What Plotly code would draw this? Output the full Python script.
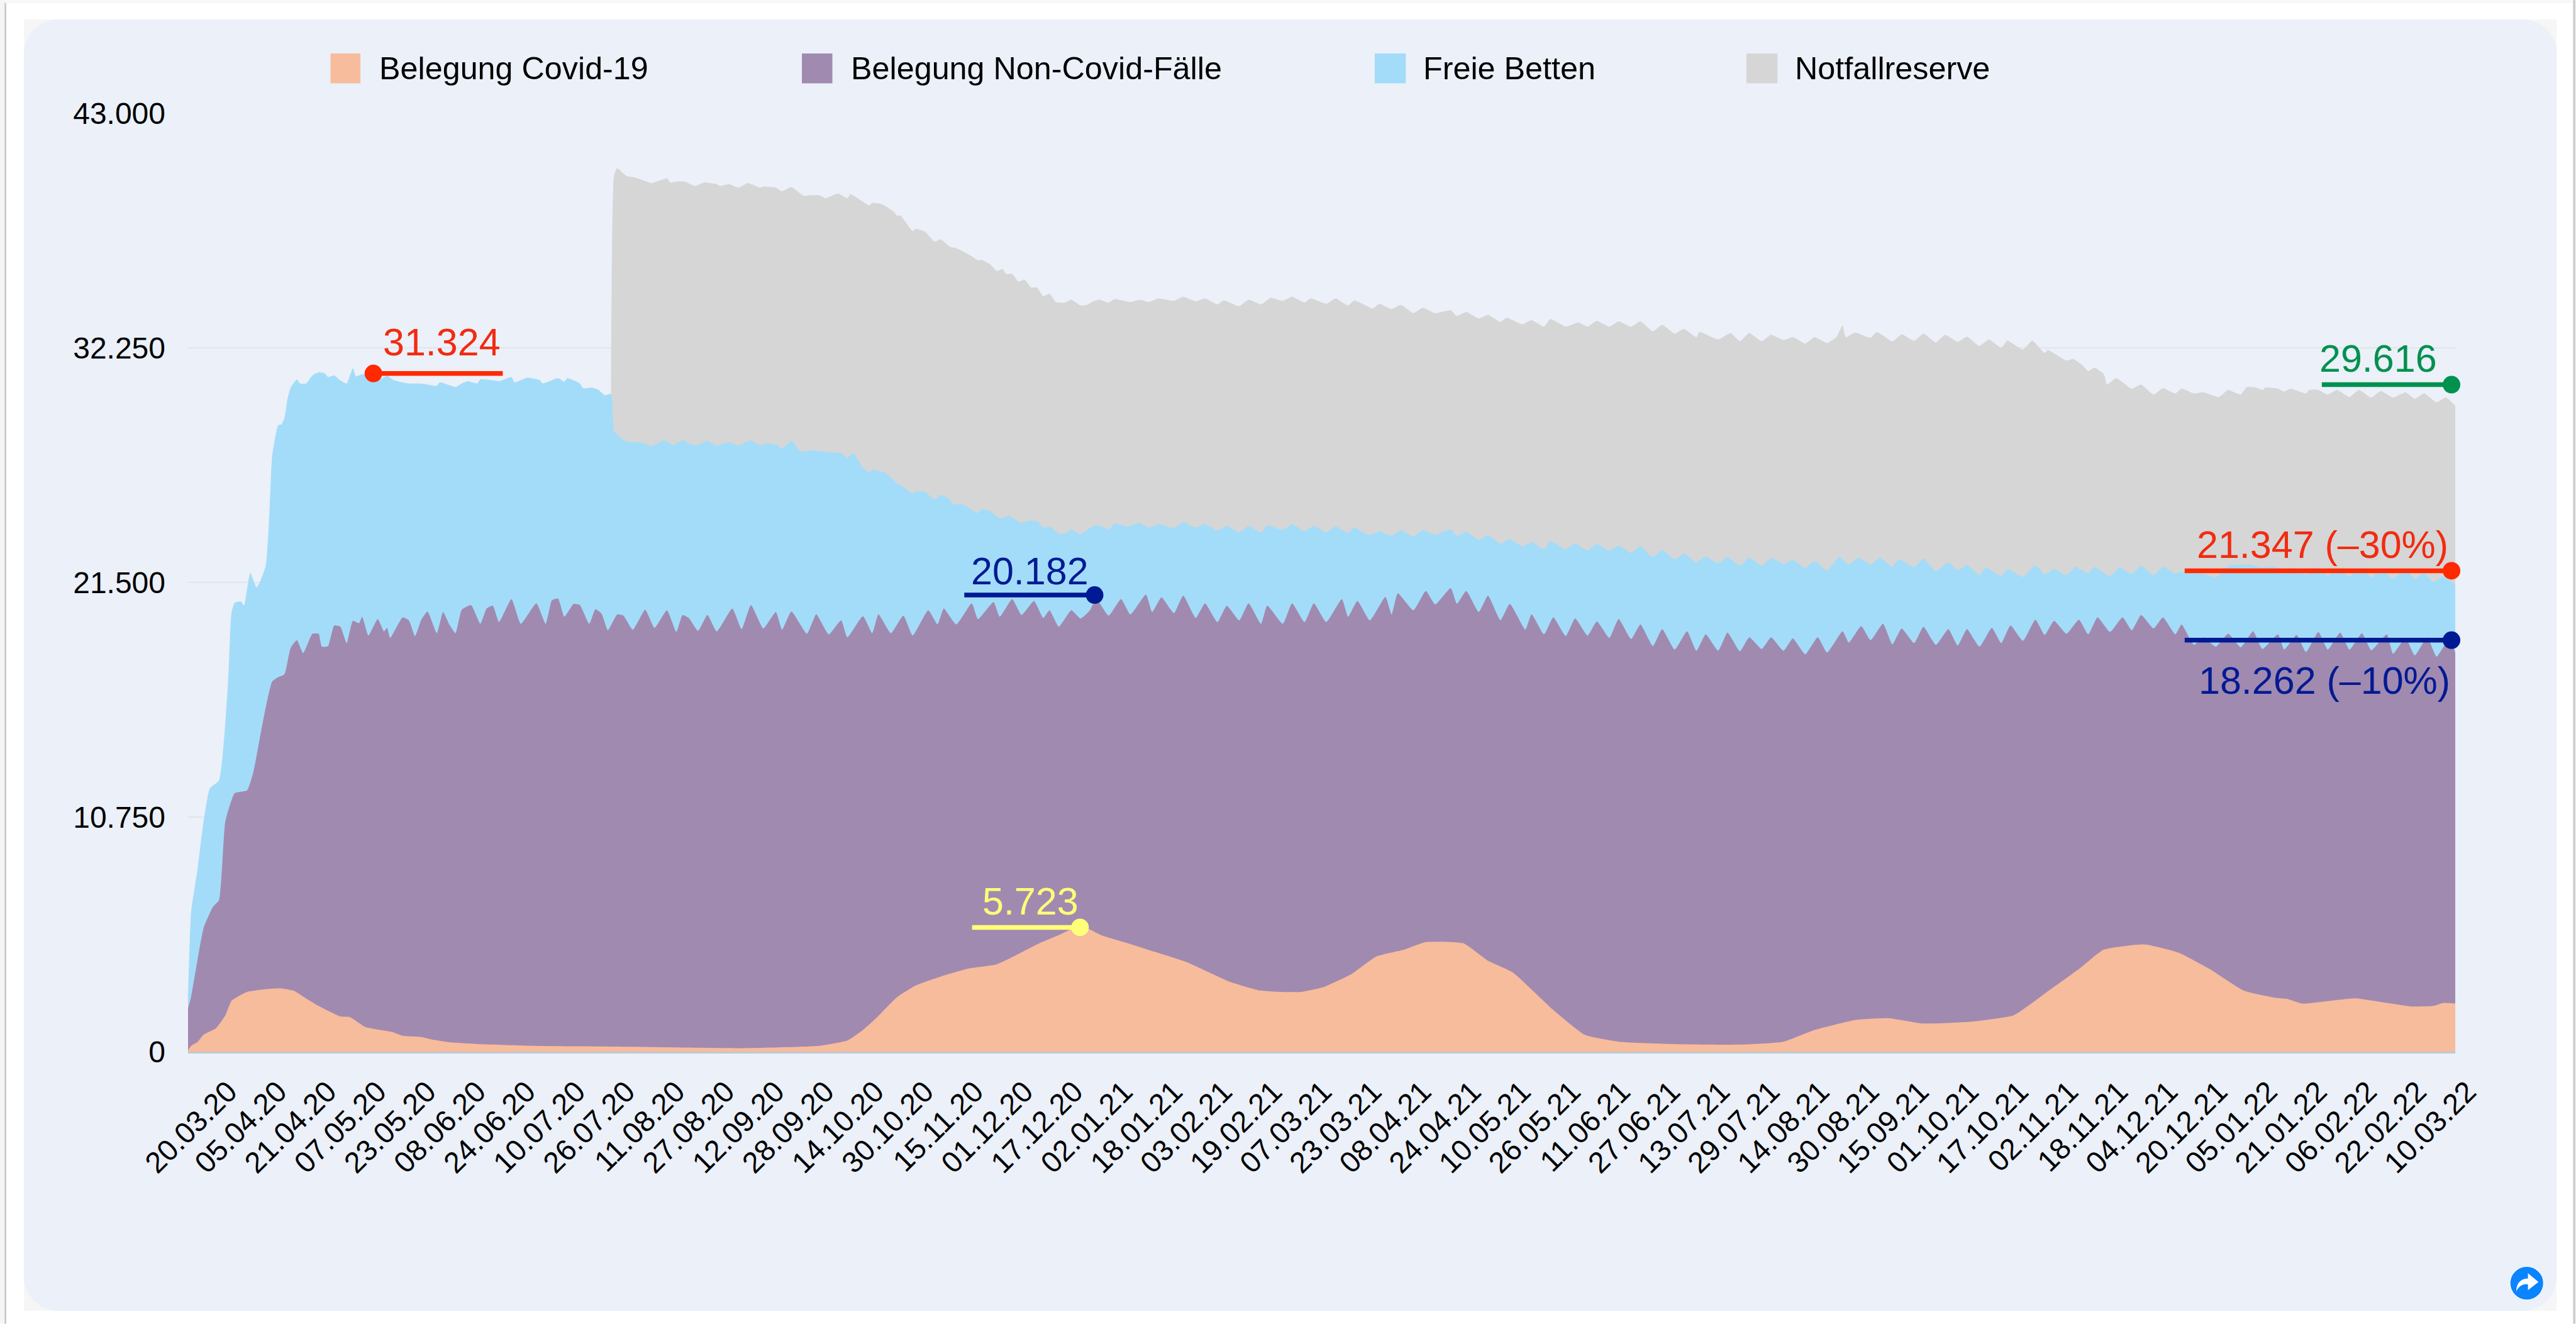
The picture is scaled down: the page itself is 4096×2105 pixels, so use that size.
import plotly.graph_objects as go

# ---------- data (day = days since 20.03.20, value = beds, cumulative top of each band) ----------
tick_labels = ["20.03.20","05.04.20","21.04.20","07.05.20","23.05.20","08.06.20","24.06.20","10.07.20","26.07.20",
 "11.08.20","27.08.20","12.09.20","28.09.20","14.10.20","30.10.20","15.11.20","01.12.20","17.12.20","02.01.21",
 "18.01.21","03.02.21","19.02.21","07.03.21","23.03.21","08.04.21","24.04.21","10.05.21","26.05.21","11.06.21",
 "27.06.21","13.07.21","29.07.21","14.08.21","30.08.21","15.09.21","01.10.21","17.10.21","02.11.21","18.11.21",
 "04.12.21","20.12.21","05.01.22","21.01.22","06.02.22","22.02.22","10.03.22"]
y_ticks = [0, 10750, 21500, 32250, 43000]

covid_top = [(0,54),(1,269),(3,430),(5,779),(9,1074),(12,1665),(14,2336),(16,2524),(19,2739),(24,2847),(30,2900),(34,2793),
(37,2524),(42,2095),(49,1611),(52,1585),(57,1128),(66,886),(69,725),(75,671),(79,537),(84,430),(93,349),(110,269),(127,242),
(146,215),(177,161),(203,269),(212,510),(217,994),(222,1638),(228,2498),(234,3035),(242,3438),(251,3814),(260,4002),(266,4404),
(273,4915),(280,5344),(287,5774),(294,5317),(304,4888),(311,4566),(321,4109),(328,3652),(335,3196),(344,2820),(351,2739),(358,2739),
(365,2954),(374,3545),(382,4351),(391,4673),(398,5022),(410,4968),(418,4163),(426,3626),(439,1907),(449,779),(460,457),(478,349),
(499,322),(513,457),(523,994),(536,1450),(547,1531),(558,1289),(573,1370),(587,1665),(597,2659),(608,3787),(616,4673),(629,4915),
(640,4539),(650,3787),(661,2793),(671,2471),(675,2417),(680,2202),(689,2336),(697,2444),(706,2256),(715,2068),(722,2095),(725,2229),(729,2202)]

noncovid_top = [(0,1987),(1,2524),(3,4163),(5,5667),(8,6633),(10,6956),(12,10554),(15,11843),(19,11978),(21,12810),(24,15066),(27,16946),
(29,17161),(31,17295),(33,18504),(35,18853),(37,18262),(40,19148),(42,19148),(43,18557),(45,18584),(47,19524),(49,19471),(51,18719),
(53,19739),(55,19632),(56,19927),(58,19068),(61,19820),(63,19256),(64,19417),(65,18960),(69,19900),(71,19766),(73,19041),(75,19793),
(77,20169),(80,19175),(82,20142),(84,19578),(86,19175),(88,20249),(91,20464),(94,19605),(96,20303),(98,20437),(100,19685),(104,20733),
(107,19605),(112,20545),(115,19605),(117,20679),(119,20760),(121,19927),(124,20518),(126,20464),(129,19605),(131,20276),(133,20061),
(135,19309),(138,20035),(140,19981),(143,19336),(147,20249),(150,19417),(154,20223),(157,19229),(159,20008),(161,19873),(164,19283),
(167,20008),(170,19256),(175,20303),(178,19363),(181,20464),(185,19390),(189,20142),(191,19336),(194,20169),(199,19148),(202,20035),
(206,19121),(210,19766),(212,18987),(217,19954),(220,19175),(222,20035),(226,19175),(230,19981),(233,19068),(238,20223),(241,19578),
(243,20303),(247,19578),(252,20545),(254,19820),(259,20599),(261,19927),(265,20733),(268,20008),(272,20652),(275,19873),(277,20223),
(280,19471),(284,20223),(287,19847),(290,20223),(292,20760),(296,19981),(300,20733),(303,20035),(308,20948),(310,20142),(313,20813),
(317,20088),(320,20894),(324,19873),(327,20545),(331,19685),(334,20437),(338,19766),(341,20545),(345,19605),(347,20437),(352,19605),
(355,20545),(359,19685),(362,20545),(366,19685),(371,20733),(373,19927),(376,20652),(380,19766),(385,20840),(387,20035),(389,21001),
(394,20223),(398,21109),(401,20491),(406,21243),(408,20518),(411,21109),(415,20142),(418,20894),(422,19766),(425,20518),(430,19336),
(432,20035),(436,19121),(439,19900),(443,19041),(446,19847),(450,19068),(453,19712),(457,18960),(460,19820),(464,18907),(467,19578),
(471,18584),(474,19363),(478,18423),(482,19256),(485,18370),(488,19121),(492,18370),(495,19202),(499,18343),(502,18987),(506,18450),
(509,18987),(513,18370),(516,18933),(520,18208),(524,18987),(527,18289),(532,19256),(534,18745),(538,19497),(541,18853),(545,19605),
(548,18665),(551,19390),(555,18719),(558,19471),(562,18638),(566,19363),(569,18611),(572,19363),(576,18557),(580,19417),(583,18719),
(586,19524),(590,18826),(594,19793),(597,19095),(600,19739),(604,19148),(608,19793),(611,19121),(614,19900),(618,19229),(622,19900),
(625,19309),(628,20008),(632,19390),(635,19900),(639,19121),(641,19578),(645,18638),(648,18987),(652,18557),(656,19148),(660,18531),
(664,19256),(667,18450),(672,19121),(674,18423),(678,19095),(681,18316),(685,19229),(688,18423),(692,19202),(695,18423),(699,19175),
(702,18396),(707,19121),(709,18235),(713,18960),(716,18155),(720,18987),(723,18101),(727,18907),(729,18289)]

free_top = [(0,2600),(1,6419),(3,8299),(5,10554),(7,12058),(10,12434),(12,15066),(13,17295),(14,20142),(15,20572),(17,20625),(18,20437),
(20,21941),(22,21270),(23,21485),(25,22264),(26,24170),(27,27232),(28,28118),(29,28709),(30,28736),(31,29031),(32,29918),(33,30428),
(35,30804),(36,30616),(38,30616),(40,30992),(42,31126),(44,31072),(45,30911),(47,30992),(49,30750),(51,30616),(53,31314),(54,30938),
(56,31045),(59,30965),(62,30831),(64,30965),(66,30777),(68,30696),(71,30616),(75,30616),(80,30508),(81,30670),(86,30455),(88,30616),
(90,30723),(93,30616),(94,30804),(97,30777),(100,30723),(104,30911),(105,30670),(109,30884),(113,30777),(114,30616),(119,30858),
(121,30696),(122,30858),(126,30616),(127,30401),(130,30428),(132,30320),(134,30079),(136,30132),(137,28440),(139,28145),(141,27957),
(146,27903),(149,27742),(153,28011),(156,27796),(159,28011),(163,27769),(167,27984),(170,27769),(174,27930),(177,27769),(181,28011),
(184,27769),(186,27877),(189,27823),(191,27635),(194,27984),(197,27501),(200,27554),(206,27474),(210,27420),(212,27205),(214,27420),
(217,26749),(219,26534),(220,26668),(224,26534),(228,26050),(230,25889),(233,25567),(234,25674),(237,25647),(240,25298),(242,25513),
(245,25298),(246,25083),(249,25083),(254,24681),(255,24869),(258,24761),(261,24439),(264,24546),(268,24224),(270,24332),(273,24305),
(275,24009),(277,24063),(280,23741),(282,23741),(284,23929),(287,23714),(291,24090),(293,24117),(296,23929),(298,24197),(302,24063),
(306,24224),(309,24009),(312,24170),(317,23982),(320,24251),(324,24009),(327,24170),(331,23875),(334,24090),(338,23794),(341,24090),
(345,23794),(347,24117),(352,23902),(355,24170),(359,23848),(362,24090),(366,23794),(369,24063),(373,23768),(375,24009),(380,23660),
(383,23848),(387,23633),(390,23902),(394,23606),(397,23902),(401,23687),(406,23929),(408,23633),(411,23821),(415,23445),(418,23660),
(422,23284),(425,23499),(429,23150),(432,23338),(436,23016),(438,23392),(443,23016),(446,23284),(450,22962),(453,23257),(457,22962),
(460,23177),(464,22855),(467,23150),(471,22667),(474,22989),(478,22559),(481,22828),(485,22425),(488,22693),(492,22371),(495,22667),
(499,22264),(502,22640),(506,22264),(509,22613),(513,22344),(516,22532),(520,22156),(523,22478),(527,22049),(531,22667),(534,22317),
(537,22640),(541,22317),(544,22640),(548,22210),(550,22559),(555,22210),(558,22586),(562,22022),(566,22425),(569,22049),(572,22317),
(576,21834),(578,22183),(583,21780),(585,22102),(590,21753),(594,22290),(597,21861),(600,22129),(604,21834),(607,22210),(611,21914),
(613,22210),(618,21780),(621,22183),(625,21888),(628,22264),(632,21834),(635,22210),(639,21914),(643,22049),(649,21861),(652,21727),
(656,22264),(663,22317),(667,22183),(671,22237),(674,21914),(676,22183),(681,21861),(684,22183),(688,21807),(691,22183),(695,21780),
(699,22183),(702,21727),(705,22129),(709,21673),(713,22102),(716,21673),(719,21941),(722,21512),(725,21780),(729,21377)]

reserve_top = [(136,30132),(137,40177),(138,40472),(141,40123),(144,40042),(149,39801),(151,39881),(154,40015),(155,39827),(158,39881),
(160,39854),(163,39666),(166,39827),(170,39747),(171,39666),(174,39747),(177,39586),(180,39801),(184,39586),(185,39639),(189,39586),
(191,39425),(194,39613),(198,39210),(200,39237),(203,39237),(205,39102),(209,39317),(212,39102),(213,39290),(219,38780),(220,38888),
(223,38834),(227,38485),(228,38297),(229,38324),(233,37598),(234,37706),(237,37571),(240,37115),(242,37222),(245,36873),(247,36820),
(252,36444),(254,36256),(255,36283),(258,36068),(260,35772),(262,35853),(263,35638),(265,35638),(267,35289),(269,35369),(271,35020),
(273,35020),(275,34617),(277,34725),(279,34349),(282,34322),(284,34456),(287,34188),(289,34215),(291,34376),(293,34456),(296,34322),
(298,34483),(303,34349),(306,34456),(309,34349),(312,34510),(317,34403),(320,34590),(324,34376),(327,34510),(331,34241),(333,34429),
(338,34161),(341,34456),(345,34241),(348,34537),(352,34403),(355,34590),(359,34322),(361,34510),(366,34268),(369,34510),(373,34188),
(375,34429),(381,34053),(383,34268),(387,34027),(390,34215),(394,33839),(397,34080),(401,33839),(406,33973),(408,33704),(411,33892),
(415,33597),(418,33758),(422,33436),(424,33624),(429,33328),(432,33516),(436,33221),(438,33570),(443,33221),(447,33409),(450,33221),
(453,33489),(457,33221),(460,33463),(464,33221),(467,33463),(471,33006),(474,33301),(478,32899),(481,33113),(485,32737),(486,32979),
(492,32630),(496,32925),(499,32549),(502,32925),(506,32549),(509,32845),(513,32603),(516,32737),(520,32442),(523,32737),(527,32469),
(530,32737),(532,33275),(533,32737),(536,32952),(541,32711),(543,32979),(548,32549),(551,32872),(555,32576),(558,32899),(562,32496),
(565,32845),(569,32523),(572,32764),(576,32335),(579,32630),(583,32254),(585,32576),(590,32173),(593,32576),(597,32012),(598,32146),
(604,31663),(606,31744),(609,31475),(611,31180),(613,31341),(616,31045),(617,30562),(620,30858),(625,30374),(628,30562),(632,30106),
(635,30401),(639,30159),(641,30374),(645,30159),(648,30213),(653,29998),(656,30320),(660,30106),(662,30455),(665,30428),(667,30320),
(668,30428),(672,30374),(674,30240),(676,30374),(681,30159),(682,30320),(685,30320),(688,30106),(691,30320),(695,29998),(698,30320),
(702,29971),(705,30266),(709,29971),(713,30213),(716,29918),(719,30159),(723,29756),(726,29971),(729,29595)]

# highlighted levels: (first day, last day, level)
marks = {
 "peak_capacity": (59.6, 101.2, 31073),
 "capacity_now":  (686.1, 727.8, 30562),
 "thirty_below":  (642, 727.8, 22035),
 "ten_below":     (642, 727.8, 18853),
 "peak_load":     (249.6, 291.5, 20921),
 "peak_covid":    (252.1, 286.8, 5693),
}
mark_colors = {"peak_capacity":"#ff2a00","capacity_now":"#00914f","thirty_below":"#ff2a00",
               "ten_below":"#001a93","peak_load":"#001a93","peak_covid":"#ffff78"}
dot_at_start = {"peak_capacity"}

labels = [("31.324", 81.6, 32523, "center", "#f22b10"),
          ("29.616", 704.2, 31770, "center", "#00914f"),
          ("21.347 (–30%)", 727.2, 23230, "right", "#f22b10"),
          ("18.262 (–10%)", 727.8, 17000, "right", "#001a93"),
          ("20.182", 270.6, 22022, "center", "#001a93"),
          ("5.723", 270.8, 6902, "center", "#ffff78")]

legend_names = ["Belegung Covid-19","Belegung Non-Covid-Fälle","Freie Betten","Notfallreserve"]
colors = ["#f7bc9c","#a18ab0","#a3dcf8","#d6d6d6"]

# ---------- layout geometry ----------
S = 4096/4394
W, H = 4096, 2105
L, R, T, B = 321*S, 4188*S, 193*S, 1794*S
def px(x): return (x*S-L)/(R-L)
def py(y): return (B-y*S)/(B-T)

FONT = "Liberation Sans, Helvetica, Arial, sans-serif"

fig = go.Figure()
for name, series, col in [(legend_names[3], reserve_top, colors[3]), (legend_names[2], free_top, colors[2]),
                          (legend_names[1], noncovid_top, colors[1]), (legend_names[0], covid_top, colors[0])]:
    fig.add_trace(go.Scatter(x=[p[0] for p in series], y=[p[1] for p in series], name=name, mode="lines",
                             line=dict(width=0, color=col, shape="spline", smoothing=0.45),
                             fill="tozeroy", fillcolor=col, showlegend=False, hoverinfo="x+y+name"))

for k, (d0, d1, lvl) in marks.items():
    c = mark_colors[k]
    sizes = [28, 0] if k in dot_at_start else [0, 28]
    fig.add_trace(go.Scatter(x=[d0, d1], y=[lvl, lvl], mode="lines+markers", showlegend=False, cliponaxis=False,
                             line=dict(color=c, width=7.5),
                             marker=dict(color=c, size=sizes, opacity=1, line=dict(width=0)),
                             hoverinfo="skip"))

def rect(x0,y0,x1,y1,col):
    return dict(type="rect", xref="paper", yref="paper", x0=px(x0), x1=px(x1), y0=py(y0), y1=py(y1),
                fillcolor=col, line=dict(width=0), layer="below")
def round_rect(x0,y0,x1,y1,r,col):
    k = r*0.45
    pts = (f"M{px(x0+r)},{py(y0)} L{px(x1-r)},{py(y0)} C{px(x1-k)},{py(y0)} {px(x1)},{py(y0+k)} {px(x1)},{py(y0+r)} "
           f"L{px(x1)},{py(y1-r)} C{px(x1)},{py(y1-k)} {px(x1-k)},{py(y1)} {px(x1-r)},{py(y1)} "
           f"L{px(x0+r)},{py(y1)} C{px(x0+k)},{py(y1)} {px(x0)},{py(y1-k)} {px(x0)},{py(y1-r)} "
           f"L{px(x0)},{py(y0+r)} C{px(x0)},{py(y0+k)} {px(x0+k)},{py(y0)} {px(x0+r)},{py(y0)} Z")
    return dict(type="path", xref="paper", yref="paper", path=pts, fillcolor=col, line=dict(width=0), layer="below")

shapes = [rect(0,0,4394,5,"#f7f7f7"), rect(0,0,8,2258,"#f5f5f5"), rect(8,5,11,2258,"#c9c9c9"),
          rect(4389,0,4393,2258,"#cccccc"),
          rect(41,33,4361,2236,"#f6f6f6"), round_rect(41,33,4361,2236,58,"#ebf0f9")]

# legend swatches and icon
swatches = [(564,615),(1368,1420),(2345,2398),(2979,3032)]
text_x = [645,1449,2426,3060]
for (a,b),c in zip(swatches, colors):
    shapes.append(rect(a,91,b,142,c))

cx, cy, r = 4310, 2189, 28
shapes.append(dict(type="circle", xref="paper", yref="paper", x0=px(cx-r-1), x1=px(cx+r+1), y0=py(cy-r-1), y1=py(cy+r+1),
                   fillcolor="#ffffff", line=dict(width=0), layer="above"))
shapes.append(dict(type="circle", xref="paper", yref="paper", x0=px(cx-r), x1=px(cx+r), y0=py(cy-r), y1=py(cy+r),
                   fillcolor="#0a84ff", line=dict(width=0), layer="above"))
arrow = (f"M{px(cx+20)},{py(cy-2)} L{px(cx+2)},{py(cy-17)} L{px(cx+2)},{py(cy-8)} "
         f"C{px(cx-10)},{py(cy-8)} {px(cx-18)},{py(cy)} {px(cx-18)},{py(cy+14)} "
         f"C{px(cx-13)},{py(cy+4)} {px(cx-6)},{py(cy+1)} {px(cx+2)},{py(cy+2)} L{px(cx+2)},{py(cy+12)} Z")
shapes.append(dict(type="path", xref="paper", yref="paper", path=arrow, fillcolor="#ffffff", line=dict(width=0), layer="above"))

ann = []
for t, x0 in zip(legend_names, text_x):
    ann.append(dict(text=t, xref="paper", yref="paper", x=px(x0), y=py(116), xanchor="left", yanchor="middle",
                    showarrow=False, font=dict(size=50.3, color="#000", family=FONT)))
for t, d, v, anchor, c in labels:
    ann.append(dict(text=t, xref="x", yref="y", x=d, y=v, xanchor=anchor, yanchor="middle", showarrow=False,
                    font=dict(size=61, color=c, family=FONT)))

fig.update_layout(
    width=W, height=H, autosize=False, paper_bgcolor="#ffffff", plot_bgcolor="rgba(0,0,0,0)",
    margin=dict(l=L, r=W-R, t=T, b=H-B, pad=0, autoexpand=False),
    showlegend=False, shapes=shapes, annotations=ann,
    font=dict(family=FONT, color="#000"),
    xaxis=dict(range=[0,729], tickmode="array", tickvals=[16*i for i in range(len(tick_labels))], ticktext=tick_labels,
               tickangle=-45, ticks="", showgrid=False, zeroline=False, showline=True, linecolor="#bfc9d2", linewidth=3,
               tickfont=dict(size=47, color="#000", family=FONT), ticklabelstandoff=14, ticklabelshift=64, automargin=False),
    yaxis=dict(range=[0,43000], tickmode="array", tickvals=y_ticks, ticktext=[f"{v:,}".replace(",", ".") for v in y_ticks],
               ticks="", showgrid=True, gridcolor="#e2e4ea", gridwidth=2, zeroline=False, showline=False,
               tickfont=dict(size=48, color="#000", family=FONT), ticklabelstandoff=35, automargin=False),
)

fig.write_html("out.html", config=dict(displayModeBar=False),
               post_script="document.body.style.margin='0';document.body.style.overflow='hidden';")
